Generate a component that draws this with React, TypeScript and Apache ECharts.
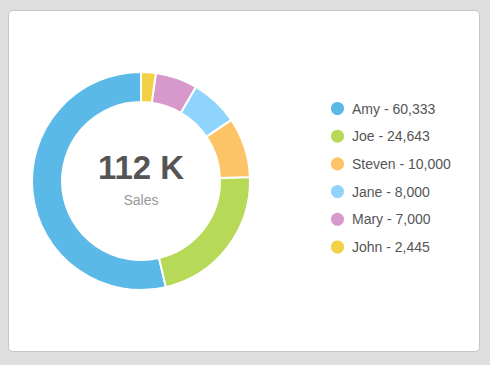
import React, { useEffect, useRef } from "react";
import * as echarts from "echarts";

const names = ["Amy", "Joe", "Steven", "Jane", "Mary", "John"];
const values = [60333, 24643, 10000, 8000, 7000, 2445];
const colors = ["#5bb9e7", "#b6da57", "#fcc466", "#8fd4fd", "#d799cc", "#f3d147"];
const centerLabel = "Sales";

export default function App() {
  const ref = useRef<HTMLDivElement>(null);
  useEffect(() => {
    if (!ref.current) return;
    const chart = echarts.init(ref.current, undefined, { renderer: "svg" });
    const total = values.reduce((a, b) => a + b, 0);
    const totalText = `${Math.round(total / 1000)} K`;
    const font = "'Liberation Sans', Arial, sans-serif";
    chart.setOption({
      animation: false,
      backgroundColor: "#dfdfdf",
      color: colors,
      graphic: [
        {
          type: "rect",
          z: -10,
          shape: { x: 8.5, y: 10.5, width: 471, height: 341, r: 4 },
          style: { fill: "#ffffff", stroke: "#c6c6c6", lineWidth: 1 },
        },
        {
          type: "text",
          z: 10,
          style: {
            text: totalText,
            x: 141,
            y: 167,
            fill: "#555555",
            font: `bold 33px ${font}`,
            textAlign: "center",
            textVerticalAlign: "middle",
          },
        },
        {
          type: "text",
          z: 10,
          style: {
            text: centerLabel,
            x: 141,
            y: 200,
            fill: "#999999",
            font: `14px ${font}`,
            textAlign: "center",
            textVerticalAlign: "middle",
          },
        },
      ],
      legend: {
        orient: "vertical",
        left: 324,
        top: 95,
        icon: "circle",
        itemWidth: 15,
        itemHeight: 15,
        itemGap: 10.7,
        data: names,
        textStyle: { color: "#555555", fontSize: 14, fontFamily: font, padding: [0, 0, 0, 2] },
        formatter: (n: string) => {
          const i = names.indexOf(n);
          return `${n} - ${values[i].toLocaleString("en-US")}`;
        },
      },
      series: [
        {
          type: "pie",
          center: [141, 181],
          radius: [79, 109],
          startAngle: 90,
          clockwise: false,
          label: { show: false },
          labelLine: { show: false },
          emphasis: { disabled: true },
          itemStyle: { borderColor: "#ffffff", borderWidth: 2 },
          data: names.map((n, i) => ({ name: n, value: values[i] })),
        },
      ],
    });
    return () => chart.dispose();
  }, []);
  return (
    <div
      ref={ref}
      style={{ position: "fixed", left: 0, top: 0, width: 490, height: 365 }}
    />
  );
}
